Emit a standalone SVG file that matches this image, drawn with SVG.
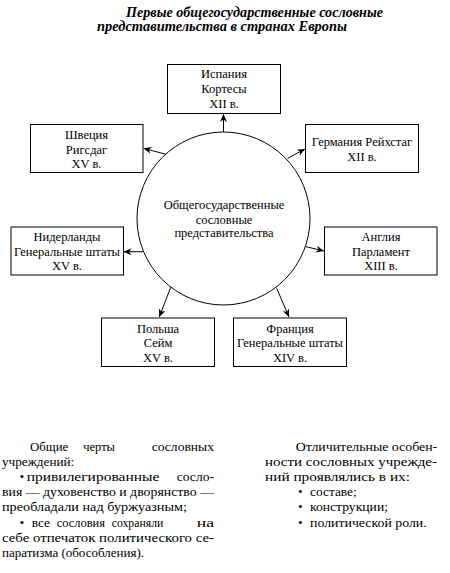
<svg xmlns="http://www.w3.org/2000/svg" width="450" height="573" viewBox="0 0 450 573">
<defs>
<marker id="arr" markerUnits="userSpaceOnUse" markerWidth="10" markerHeight="8" refX="8" refY="3.5" orient="auto">
<path d="M0,0 L8,3.5 L0,7 L2.5,3.5 Z" fill="#000"/>
</marker>
<style>
.box{fill:#fff;stroke:#000;stroke-width:1}
text{font-family:'Liberation Serif','DejaVu Serif','Times New Roman',serif;fill:#000}
.lbl{font-size:12.5px;text-anchor:middle}
.body{font-size:13.5px}
.title{font-size:14px;font-weight:bold;font-style:italic}
.con{stroke:#000;stroke-width:1;fill:none;marker-end:url(#arr)}
</style>
</defs>
<rect width="450" height="573" fill="#fff"/>
<g id="title">
<text class="title" x="126" y="16.5" textLength="257" lengthAdjust="spacingAndGlyphs">Первые общегосударственные сословные</text>
<text class="title" x="97" y="31" textLength="250" lengthAdjust="spacingAndGlyphs">представительства в странах Европы</text>
</g>
<g id="connectors">
<line class="con" x1="223.5" y1="132" x2="223.5" y2="114"/>
<line class="con" x1="166" y1="154.3" x2="143.5" y2="148.3"/>
<line class="con" x1="287.7" y1="158.3" x2="305" y2="149"/>
<line class="con" x1="144" y1="251.7" x2="123.5" y2="251.7"/>
<line class="con" x1="306" y1="246.7" x2="324" y2="251"/>
<line class="con" x1="170.7" y1="287.3" x2="159.3" y2="317"/>
<line class="con" x1="276.7" y1="288.3" x2="289" y2="317"/>
</g>
<g id="center">
<circle cx="223.5" cy="218.5" r="86.5" fill="#fff" stroke="#000" stroke-width="1"/>
<text class="lbl" x="224" y="209">Общегосударственные</text>
<text class="lbl" x="224" y="223.5">сословные</text>
<text class="lbl" x="224" y="237">представительства</text>
</g>
<g id="spain">
<rect class="box" x="167.5" y="64.5" width="113" height="49"/>
<text class="lbl" x="224" y="78">Испания</text>
<text class="lbl" x="224" y="93">Кортесы</text>
<text class="lbl" x="224" y="107.5">XII в.</text>
</g>
<g id="sweden">
<rect class="box" x="30.5" y="124.5" width="112.5" height="48"/>
<text class="lbl" x="86.5" y="139">Швеция</text>
<text class="lbl" x="86.5" y="153.5">Ригсдаг</text>
<text class="lbl" x="86.5" y="167.5">XV в.</text>
</g>
<g id="germany">
<rect class="box" x="305.5" y="124.5" width="113" height="48"/>
<text class="lbl" x="362" y="145.5">Германия Рейхстаг</text>
<text class="lbl" x="362" y="160.5">XII в.</text>
</g>
<g id="netherlands">
<rect class="box" x="11" y="227" width="112.5" height="48"/>
<text class="lbl" x="67" y="240.5">Нидерланды</text>
<text class="lbl" x="67" y="255.5">Генеральные штаты</text>
<text class="lbl" x="67" y="270">XV в.</text>
</g>
<g id="england">
<rect class="box" x="324.5" y="227" width="112.5" height="48"/>
<text class="lbl" x="381" y="240.5">Англия</text>
<text class="lbl" x="381" y="255.5">Парламент</text>
<text class="lbl" x="381" y="270">XIII в.</text>
</g>
<g id="poland">
<rect class="box" x="101.5" y="318" width="113" height="48.5"/>
<text class="lbl" x="158" y="332.5">Польша</text>
<text class="lbl" x="158" y="347">Сейм</text>
<text class="lbl" x="158" y="361.5">XV в.</text>
</g>
<g id="france">
<rect class="box" x="233.5" y="318" width="113" height="48.5"/>
<text class="lbl" x="290" y="332.5">Франция</text>
<text class="lbl" x="290" y="347">Генеральные штаты</text>
<text class="lbl" x="290" y="361.5">XIV в.</text>
</g>
<g id="common-features">
<text class="body" x="30" y="450.5" textLength="38.3" lengthAdjust="spacingAndGlyphs">Общие</text>
<text class="body" x="83.3" y="450.5" textLength="31.7" lengthAdjust="spacingAndGlyphs">черты</text>
<text class="body" x="151.7" y="450.5" textLength="62.3" lengthAdjust="spacingAndGlyphs">сословных</text>
<text class="body" x="2" y="465.7" textLength="72.3" lengthAdjust="spacingAndGlyphs">учреждений:</text>
<text class="body" x="19.5" y="480.9">•</text>
<text class="body" x="26.7" y="480.9" textLength="132.6" lengthAdjust="spacingAndGlyphs">привилегированные</text>
<text class="body" x="176.7" y="480.9" textLength="37.3" lengthAdjust="spacingAndGlyphs">сосло-</text>
<text class="body" x="2" y="496.1" textLength="212" lengthAdjust="spacingAndGlyphs">вия — духовенство и дворянство —</text>
<text class="body" x="2" y="511.3" textLength="185" lengthAdjust="spacingAndGlyphs">преобладали над буржуазным;</text>
<text class="body" x="19.5" y="526.5">•</text>
<text class="body" x="31.7" y="526.5" textLength="18.3" lengthAdjust="spacingAndGlyphs">все</text>
<text class="body" x="56.7" y="526.5" textLength="48.3" lengthAdjust="spacingAndGlyphs">сословия</text>
<text class="body" x="111.7" y="526.5" textLength="51.6" lengthAdjust="spacingAndGlyphs">сохраняли</text>
<text class="body" x="196.7" y="526.5" textLength="17.3" lengthAdjust="spacingAndGlyphs">на</text>
<text class="body" x="2" y="541.7" textLength="212" lengthAdjust="spacingAndGlyphs">себе отпечаток политического се-</text>
<text class="body" x="2" y="556.9" textLength="142" lengthAdjust="spacingAndGlyphs">паратизма (обособления).</text>
</g>
<g id="distinct-features">
<text class="body" x="295.7" y="450.5" textLength="141.5" lengthAdjust="spacingAndGlyphs">Отличительные особен-</text>
<text class="body" x="265" y="465.7" textLength="172" lengthAdjust="spacingAndGlyphs">ности сословных учрежде-</text>
<text class="body" x="265" y="480.9" textLength="145" lengthAdjust="spacingAndGlyphs">ний проявлялись в их:</text>
<text class="body" x="298" y="496.1">•</text>
<text class="body" x="310" y="496.1" textLength="46.7" lengthAdjust="spacingAndGlyphs">составе;</text>
<text class="body" x="298" y="511.3">•</text>
<text class="body" x="310" y="511.3" textLength="78" lengthAdjust="spacingAndGlyphs">конструкции;</text>
<text class="body" x="298" y="526.5">•</text>
<text class="body" x="310" y="526.5" textLength="116.7" lengthAdjust="spacingAndGlyphs">политической роли.</text>
</g>
</svg>
